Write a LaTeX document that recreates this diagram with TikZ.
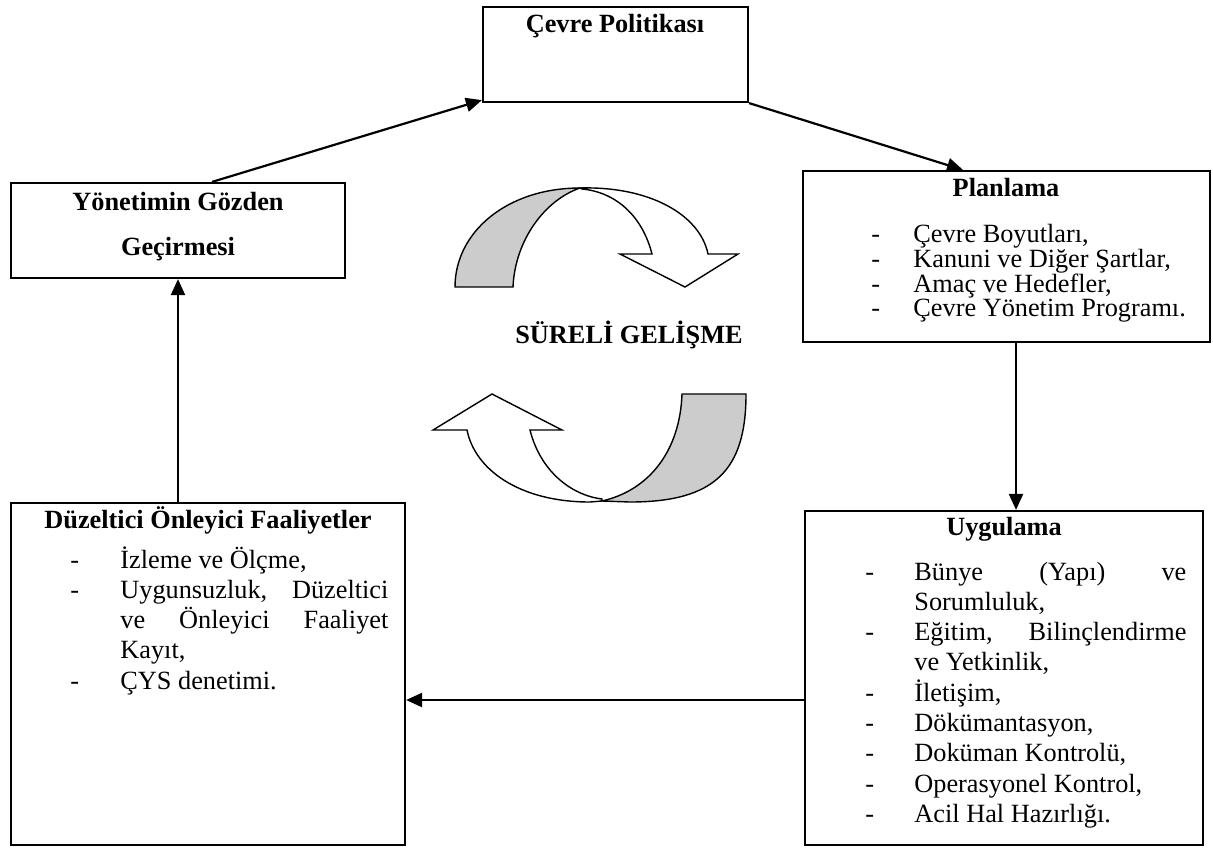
\documentclass[tikz,border=0pt]{standalone}
\usepackage{fontspec}
\setmainfont{Liberation Serif}
\usetikzlibrary{arrows.meta,calc,fit}
\begin{document}
\begin{tikzpicture}[x=0.5pt,y=-0.5pt,
  box/.style={draw,line width=1.1pt,inner sep=0pt},
  arr/.style={line width=1.1pt,-{Triangle[length=8pt,width=7pt]}},
  txt/.style={inner sep=0pt,font=\fontsize{13.15}{15}\selectfont},
  hd/.style={inner sep=0pt,font=\fontsize{13.15}{15}\selectfont\bfseries,anchor=base},
  li/.style={txt,anchor=base west},
  band/.style={draw,line width=0.7pt,line join=miter}]
\useasboundingbox (0,0) rectangle (1213,847);

% boxes
\node[box,fit={(483,7) (748,102)}] (cev) {};
\node[box,fit={(11,183) (345,278)}] (yon) {};
\node[box,fit={(803,171) (1210,342)}] (plan) {};
\node[box,fit={(805,511) (1203,845)}] (uyg) {};
\node[box,fit={(11,503) (405,845)}] (duz) {};

% headings
\node[hd] (cevt) at (615,32) {Çevre Politikası};
\node[hd] (yont1) at (178,210) {Yönetimin Gözden};
\node[hd] (yont2) at (178,255) {Geçirmesi};
\node[hd] (plant) at (1006,196) {Planlama};
\node[hd] (uygt) at (1004,535) {Uygulama};
\node[hd] (duzt) at (208,528) {Düzeltici Önleyici Faaliyetler};
\node[hd] (sure) at (629,343) {SÜRELİ GELİŞME};

% Planlama list (tight line spacing, one block)
\node[inner sep=0pt,anchor=base west] (plist) at (871,242) {\fontsize{13.15}{11.4}\selectfont
  \begin{tabular}[t]{@{}l@{}l@{}}
  \makebox[21pt][l]{-} & Çevre Boyutları,\\
  \makebox[21pt][l]{-} & Kanuni ve Diğer Şartlar,\\
  \makebox[21pt][l]{-} & Amaç ve Hedefler,\\
  \makebox[21pt][l]{-} & Çevre Yönetim Programı.
  \end{tabular}};

% Uygulama list
\foreach \d/\t [count=\i] in {-/{\makebox[136pt][s]{Bünye (Yapı) ve}},{}/{Sorumluluk,},-/{\makebox[136pt][s]{Eğitim, Bilinçlendirme}},{}/{ve Yetkinlik,},-/{İletişim,},-/{Dökümantasyon,},-/{Doküman Kontrolü,},-/{Operasyonel Kontrol,},-/{Acil Hal Hazırlığı.}}{
  \node[li] (ud\i) at (865,{580+30.3*(\i-1)}) {\d};
  \node[li] (ut\i) at (914,{580+30.3*(\i-1)}) {\t};
}

% Duzeltici list
\foreach \d/\t [count=\i] in {-/{İzleme ve Ölçme,},-/{\makebox[134pt][s]{Uygunsuzluk, Düzeltici}},{}/{\makebox[134pt][s]{ve Önleyici Faaliyet}},{}/{Kayıt,},-/{ÇYS denetimi.}}{
  \node[li] (dd\i) at (70,{568+30.3*(\i-1)}) {\d};
  \node[li] (dt\i) at (120,{568+30.3*(\i-1)}) {\t};
}

% connectors
\draw[arr] ([xshift=17pt]yon.north) -- ([yshift=1.5pt]cev.south west);
\draw[arr] (cev.south east) -- ([xshift=-21.75pt]plan.north);
\draw[arr] ([xshift=4.75pt]plan.south) -- ([xshift=6pt]uyg.north);
\coordinate (u1) at ([yshift=-11pt]uyg.west);
\draw[arr] (u1) -- (u1 -| duz.east);
\draw[arr] (duz.north -| yon.south) -- (yon.south);

% circular arrows
\filldraw[band,fill=white] (580,188) .. controls (650,186) and (700,215) .. (708,254) -- (738,254) -- (685,287) -- (620,254) -- (652,254) .. controls (642,215) and (615,192) .. (582,189) -- cycle;
\filldraw[band,fill=gray!40] (455,287) .. controls (455,232) and (507,188) .. (580,188) .. controls (545,200) and (515,240) .. (513,287) -- cycle;

\filldraw[band,fill=white] (602,501) -- (590,502) .. controls (520,502) and (475,470) .. (467,430) -- (433,430) -- (492,394) -- (562,430) -- (530,430) .. controls (540,470) and (570,495) .. (602,499) -- cycle;
\filldraw[band,fill=gray!40] (746,394) .. controls (746,470) and (715,502) .. (630,502) -- (602,501) .. controls (650,490) and (680,450) .. (682,394) -- cycle;
\end{tikzpicture}
\end{document}
